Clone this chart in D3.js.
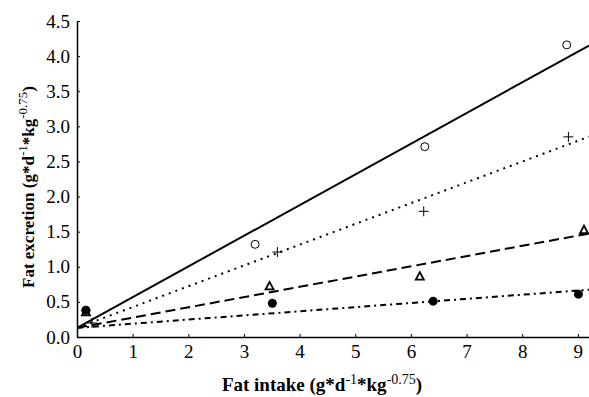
<!DOCTYPE html>
<html>
<head>
<meta charset="utf-8">
<script src="https://cdn.jsdelivr.net/npm/d3@7"></script>
<style>
  body { margin: 0; background: #fff; }
  svg text { font-family: "Liberation Serif", "Times New Roman", Times, serif; }
</style>
</head>
<body>
<div id="chart"></div>
<script>
// data
var xTicks = [0, 1, 2, 3, 4, 5, 6, 7, 8, 9];
var yTicks = [0, 0.5, 1, 1.5, 2, 2.5, 3, 3.5, 4, 4.5];

var openCircles = [[0.16, 0.38], [3.2, 1.32], [6.25, 2.71], [8.8, 4.16]];
var pluses = [[0.27, 0.2], [3.6, 1.21], [6.23, 1.79], [8.83, 2.85]];
var triangles = [[0.16, 0.35], [3.46, 0.72], [6.16, 0.86], [9.11, 1.52]];
var filledCircles = [[0.16, 0.38], [3.51, 0.48], [6.4, 0.51], [9.01, 0.61]];

// fitted lines: intercept, slope, dash pattern
var fits = [
  { a: 0.13, b: 0.437, dash: null },
  { a: 0.13, b: 0.296, dash: "2,5" },
  { a: 0.13, b: 0.146, dash: "10,5" },
  { a: 0.13, b: 0.059, dash: "6,4,2,4" }
];

var margin = {top: 21, right: 0, bottom: 60, left: 77},
    width = 589 - margin.left - margin.right,
    height = 397 - margin.top - margin.bottom;

var svg = d3.select("#chart")
  .append("svg")
    .attr("width", 589)
    .attr("height", 397)
  .append("g")
    .attr("transform", "translate(" + margin.left + "," + margin.top + ")");

var x = d3.scaleLinear().domain([0, 9.2]).range([0, width]);
var y = d3.scaleLinear().domain([0, 4.5]).range([height, 0]);

// axes
var xAxis = svg.append("g")
  .attr("transform", "translate(0," + height + ")")
  .call(d3.axisBottom(x).tickValues(xTicks).tickSizeInner(-3).tickSizeOuter(0).tickPadding(8).tickFormat(d3.format("d")));
var yAxis = svg.append("g")
  .call(d3.axisLeft(y).tickValues(yTicks).tickSizeInner(-3).tickSizeOuter(0).tickPadding(7).tickFormat(d3.format(".1f")));

[xAxis, yAxis].forEach(function(g) {
  g.attr("font-family", null).attr("font-size", 19);
  g.select(".domain").attr("stroke", "#000").attr("stroke-width", 1.5);
  g.selectAll(".tick line").attr("stroke", "#000");
  g.selectAll(".tick text").attr("fill", "#000");
});

// lines
svg.append("clipPath").attr("id", "clip")
  .append("rect").attr("width", width).attr("height", height);

fits.forEach(function(f) {
  svg.append("path")
    .datum([0, 9.2])
    .attr("clip-path", "url(#clip)")
    .attr("fill", "none")
    .attr("stroke", "#000")
    .attr("stroke-width", 2)
    .attr("stroke-dasharray", f.dash)
    .attr("d", d3.line()
      .x(function(d) { return x(d); })
      .y(function(d) { return y(f.a + f.b * d); }));
});

// markers
svg.selectAll(".oc").data(openCircles).enter().append("circle")
  .attr("cx", function(d) { return x(d[0]); })
  .attr("cy", function(d) { return y(d[1]); })
  .attr("r", 4)
  .attr("fill", "#fff").attr("stroke", "#000").attr("stroke-width", 1);

svg.selectAll(".pl").data(pluses).enter().append("path")
  .attr("transform", function(d) { return "translate(" + x(d[0]) + "," + y(d[1]) + ")"; })
  .attr("d", "M-5,0H5M0,-5V5")
  .attr("stroke", "#000").attr("stroke-width", 1).attr("fill", "none");

svg.selectAll(".tr").data(triangles).enter().append("path")
  .attr("transform", function(d) { return "translate(" + x(d[0]) + "," + y(d[1]) + ")"; })
  .attr("d", "M0,-4.5L4,3L-4,3Z")
  .attr("fill", "#fff").attr("stroke", "#000").attr("stroke-width", 1.8);

svg.selectAll(".fc").data(filledCircles).enter().append("circle")
  .attr("cx", function(d) { return x(d[0]); })
  .attr("cy", function(d) { return y(d[1]); })
  .attr("r", 4.5)
  .attr("fill", "#000");

// axis titles
function title(sel, main, sup) {
  sel.append("tspan").text(main + " (g*d");
  sel.append("tspan").attr("dy", -7).attr("font-size", sup).attr("font-weight", "normal").text("-1");
  sel.append("tspan").attr("dy", 7).text("*kg");
  sel.append("tspan").attr("dy", -7).attr("font-size", sup).attr("font-weight", "normal").text("-0.75");
  sel.append("tspan").attr("dy", 7).text(")");
}

var xt = svg.append("text")
  .attr("x", 322 - margin.left).attr("y", 391 - margin.top)
  .attr("text-anchor", "middle")
  .attr("font-size", 19).attr("font-weight", "bold");
title(xt, "Fat intake", 14);

var yt = svg.append("text")
  .attr("transform", "translate(" + (34 - margin.left) + "," + (187 - margin.top) + ") rotate(-90)")
  .attr("text-anchor", "middle")
  .attr("font-size", 17).attr("font-weight", "bold");
title(yt, "Fat excretion", 13);
</script>
</body>
</html>
